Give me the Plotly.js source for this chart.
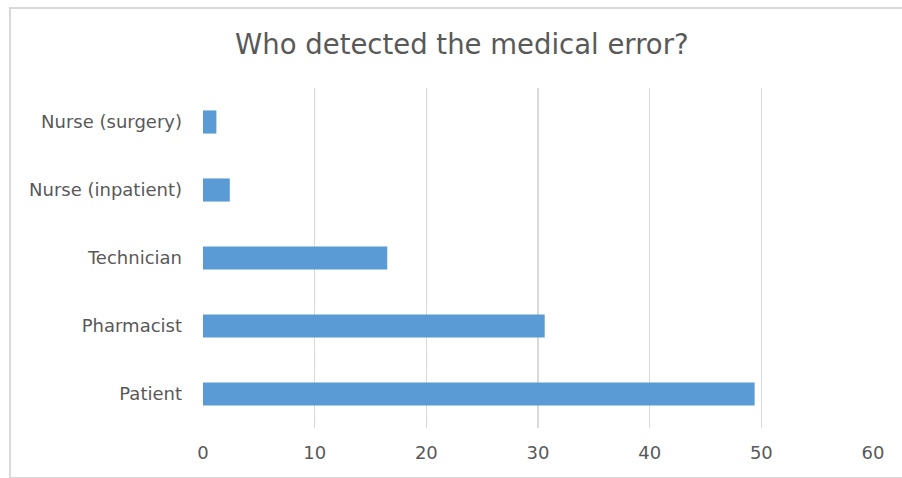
<!DOCTYPE html>
<html>
<head>
<meta charset="utf-8">
<script src="https://cdn.plot.ly/plotly-3.0.1.min.js"></script>
<style>
  html, body { margin: 0; padding: 0; background: #ffffff; overflow: hidden; }
  #frame {
    position: absolute; left: 9px; top: 7px; width: 891px; height: 468px;
    border-left: 2px solid #d9d9d9; border-top: 2px solid #d9d9d9; border-bottom: 2px solid #d9d9d9;
  }
  #chart { position: absolute; left: 0; top: 0; width: 902px; height: 478px; }
</style>
</head>
<body>
<div id="frame"></div>
<div id="chart"></div>
<script>
// Who detected the medical error — counts per detecting role
const roles = ["Patient", "Pharmacist", "Technician", "Nurse (inpatient)", "Nurse (surgery)"];
const counts = [49.4, 30.6, 16.5, 2.4, 1.2];
const xTicks = [0, 10, 20, 30, 40, 50, 60];

const fontFamily = "'DejaVu Sans', 'Open Sans', sans-serif";
const textColor = "#595959";

const trace = {
  type: "bar",
  orientation: "h",
  y: roles,
  x: counts,
  marker: { color: "#5b9bd5", line: { width: 0 } },
  hoverinfo: "x+y"
};

const layout = {
  width: 902,
  height: 478,
  paper_bgcolor: "rgba(0,0,0,0)",
  plot_bgcolor: "rgba(0,0,0,0)",
  margin: { l: 203, r: 29, t: 88, b: 50 },
  bargap: 0.66,
  showlegend: false,
  title: {
    text: "Who detected the medical error?",
    x: 0.512,
    xanchor: "center",
    y: 0.908,
    yanchor: "middle",
    font: { family: fontFamily, size: 27.5, color: textColor }
  },
  xaxis: {
    range: [0, 60],
    tickvals: xTicks,
    ticktext: xTicks.map(String),
    showgrid: true,
    gridcolor: "#d9d9d9",
    gridwidth: 1.5,
    zeroline: false,
    showline: false,
    ticks: "",
    ticklabelstandoff: 12,
    tickfont: { family: fontFamily, size: 18, color: textColor },
    fixedrange: true
  },
  yaxis: {
    type: "category",
    categoryorder: "array",
    categoryarray: roles,
    showgrid: false,
    zeroline: false,
    showline: false,
    ticks: "",
    ticklabelstandoff: 20,
    tickfont: { family: fontFamily, size: 18, color: textColor },
    fixedrange: true
  }
};

Plotly.newPlot("chart", [trace], layout, { staticPlot: true, displayModeBar: false });
</script>
</body>
</html>
